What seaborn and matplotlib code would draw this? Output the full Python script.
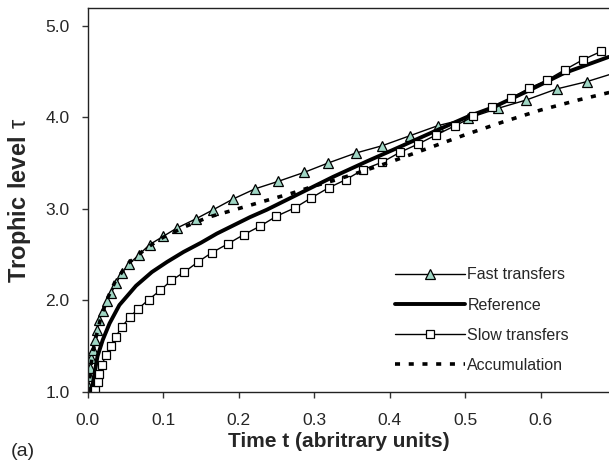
import matplotlib
matplotlib.use("Agg")
import matplotlib.pyplot as plt
import seaborn as sns
import numpy as np
import pandas as pd

# Fast transfers (triangles)
fast_t = [0.000, 0.0005, 0.002, 0.0035, 0.005, 0.0075, 0.0095, 0.0125, 0.0155, 0.020,
          0.025, 0.031, 0.038, 0.045, 0.055, 0.068, 0.082, 0.100, 0.118, 0.143,
          0.166, 0.193, 0.222, 0.252, 0.287, 0.318, 0.355, 0.390, 0.427, 0.464,
          0.504, 0.544, 0.581, 0.621, 0.661, 0.700]
fast_tau = [1.00, 1.06, 1.17, 1.26, 1.37, 1.46, 1.57, 1.68, 1.79, 1.88,
            1.99, 2.08, 2.19, 2.30, 2.40, 2.50, 2.61, 2.70, 2.79, 2.89,
            2.99, 3.11, 3.22, 3.30, 3.40, 3.50, 3.61, 3.69, 3.80, 3.91,
            3.99, 4.10, 4.19, 4.31, 4.39, 4.49]

# Reference (thick line)
ref_t = [0.003, 0.007, 0.009, 0.013, 0.020, 0.029, 0.042, 0.064, 0.085, 0.105,
         0.127, 0.150, 0.171, 0.193, 0.215, 0.237, 0.281, 0.325, 0.370, 0.414,
         0.460, 0.504, 0.537, 0.586, 0.630, 0.690]
ref_tau = [1.00, 1.10, 1.20, 1.39, 1.57, 1.75, 1.95, 2.16, 2.31, 2.42,
           2.53, 2.63, 2.73, 2.82, 2.91, 2.99, 3.17, 3.35, 3.52, 3.68,
           3.85, 4.01, 4.11, 4.30, 4.48, 4.66]

# Slow transfers (squares)
slow_t = [0.010, 0.013, 0.015, 0.019, 0.024, 0.031, 0.037, 0.045, 0.056, 0.067,
          0.081, 0.096, 0.111, 0.128, 0.146, 0.164, 0.186, 0.207, 0.228, 0.250,
          0.274, 0.296, 0.319, 0.342, 0.365, 0.390, 0.414, 0.438, 0.462, 0.487,
          0.511, 0.536, 0.561, 0.585, 0.609, 0.632, 0.656, 0.680]
slow_tau = [1.02, 1.11, 1.20, 1.30, 1.40, 1.50, 1.60, 1.71, 1.82, 1.91,
            2.01, 2.11, 2.22, 2.31, 2.42, 2.52, 2.62, 2.72, 2.81, 2.92,
            3.01, 3.12, 3.23, 3.32, 3.43, 3.51, 3.62, 3.71, 3.81, 3.91,
            4.01, 4.11, 4.21, 4.32, 4.41, 4.52, 4.63, 4.72]

# Accumulation (dotted)
acc_t = [0.000, 0.003, 0.006, 0.011, 0.017, 0.025, 0.036, 0.053, 0.067, 0.083,
         0.100, 0.130, 0.160, 0.190, 0.215, 0.240, 0.270, 0.300, 0.330, 0.360,
         0.400, 0.450, 0.500, 0.550, 0.600, 0.650, 0.700]
acc_tau = [1.00, 1.20, 1.40, 1.60, 1.80, 2.00, 2.20, 2.40, 2.50, 2.60,
           2.69, 2.81, 2.91, 2.98, 3.04, 3.10, 3.17, 3.25, 3.32, 3.40,
           3.51, 3.66, 3.81, 3.95, 4.08, 4.19, 4.29]

x_ticks = [0.0, 0.1, 0.2, 0.3, 0.4, 0.5, 0.6]
y_ticks = [1.0, 2.0, 3.0, 4.0, 5.0]

sns.set_style("ticks")
plt.rcParams['font.family'] = ['Liberation Sans', 'DejaVu Sans']
plt.rcParams['mathtext.fontset'] = 'custom'
plt.rcParams['mathtext.rm'] = 'Liberation Sans'
plt.rcParams['mathtext.bf'] = 'Liberation Sans:bold'

fig = plt.figure(figsize=(6.09, 4.70), dpi=100)
ax = fig.add_axes([0.144, 0.166, 0.856, 0.818])

sns.lineplot(x=fast_t, y=fast_tau, ax=ax, color='black', linewidth=1.0,
             marker='^', markersize=6.5, markerfacecolor='#a0d6c4',
             markeredgecolor='black', markeredgewidth=0.9,
             label='Fast transfers', estimator=None, sort=False)
sns.lineplot(x=ref_t, y=ref_tau, ax=ax, color='black', linewidth=2.8,
             label='Reference', estimator=None, sort=False)
sns.lineplot(x=slow_t, y=slow_tau, ax=ax, color='black', linewidth=1.0,
             marker='s', markersize=5.5, markerfacecolor='white',
             markeredgecolor='black', markeredgewidth=0.9,
             label='Slow transfers', estimator=None, sort=False)
sns.lineplot(x=acc_t, y=acc_tau, ax=ax, color='black', linewidth=2.6,
             linestyle=(0, (1.4, 2.4)),
             label='Accumulation', estimator=None, sort=False)

ax.set_xlim(0, 0.6905)
ax.set_ylim(1.0, 5.2)
ax.set_xticks(x_ticks)
ax.set_yticks(y_ticks)
ax.set_xticklabels([f"{v:.1f}" for v in x_ticks], fontsize=12.5)
ax.set_yticklabels([f"{v:.1f}" for v in y_ticks], fontsize=12.5)
ax.tick_params(axis='x', direction='out', length=4, width=1, color='#333333', pad=11)
ax.tick_params(axis='y', direction='out', length=4, width=1, color='#333333', pad=9)
for side in ['left', 'bottom', 'top']:
    ax.spines[side].set_linewidth(1.0)
    ax.spines[side].set_color('#222222')
ax.spines['right'].set_visible(False)

ax.set_xlabel('Time t (abritrary units)', fontsize=15, fontweight='bold')
ax.xaxis.set_label_coords(0.481, -0.103)
ax.set_ylabel(r'$\mathbf{Trophic\ level}\ \mathrm{\tau}$', fontsize=17)
ax.yaxis.set_label_coords(-0.105, 0.50)

leg = ax.legend(loc='lower right', bbox_to_anchor=(0.951, 0.012), frameon=False,
                fontsize=11.5, handlelength=4.4, handletextpad=0.15,
                labelspacing=0.95, numpoints=1)

fig.text(0.018, 0.03, '(a)', fontsize=14)

fig.savefig('out.png', dpi=100)
